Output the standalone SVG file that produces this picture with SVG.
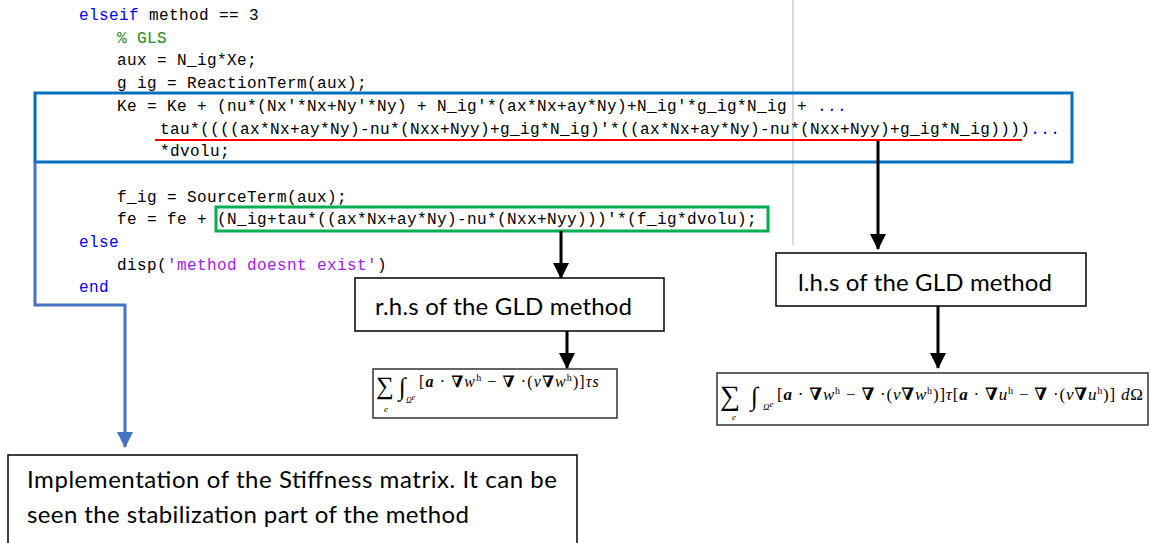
<svg xmlns="http://www.w3.org/2000/svg" width="1151" height="543" viewBox="0 0 1151 543">
<style>
.code{font-family:"Liberation Mono","Courier New",monospace;font-size:16px;letter-spacing:0.4px;fill:#000;white-space:pre}
.kw{fill:#0000ff}
.cm{fill:#228b22}
.st{fill:#a020f0}
.lbl{font-family:Lato,"Liberation Sans",Arial,sans-serif;font-size:24px;fill:#000}
.box{fill:#fff;stroke:#000;stroke-width:1.5}
.fbox{fill:#fff;stroke:#333;stroke-width:1.5}
.fm{font-family:"Liberation Serif","DejaVu Serif",serif;fill:#000}
.b{font-weight:bold}
.bi{font-weight:bold;font-style:italic}
.i{font-style:italic}
.arr{stroke:#000;stroke-width:3;fill:none}
.barr{stroke:#4472c4;stroke-width:3;fill:none}
</style>
<defs>
<marker id="ah" markerUnits="userSpaceOnUse" markerWidth="16" markerHeight="16" viewBox="0 0 16 16" refX="15" refY="8" orient="auto">
<path d="M0,0 L16,8 L0,16 Z" fill="#000"/>
</marker>
<marker id="bh" markerUnits="userSpaceOnUse" markerWidth="16" markerHeight="16" viewBox="0 0 16 16" refX="15" refY="8" orient="auto">
<path d="M0,0 L16,8 L0,16 Z" fill="#4472c4"/>
</marker>
</defs>
<rect width="1151" height="543" fill="#fff"/>
<line x1="793" y1="0" x2="793" y2="245" stroke="#d9d9d9" stroke-width="2"/>

<g id="code">
<text class="code" x="79" y="20"><tspan class="kw">elseif</tspan> method == 3</text>
<text class="code cm" x="117" y="42.7">% GLS</text>
<text class="code" x="117" y="65.4">aux = N_ig*Xe;</text>
<text class="code" x="117" y="88.1">g ig = ReactionTerm(aux);</text>
<text class="code" x="117" y="110.8">Ke = Ke + (nu*(Nx'*Nx+Ny'*Ny) + N_ig'*(ax*Nx+ay*Ny)+N_ig'*g_ig*N_ig + <tspan class="kw">...</tspan></text>
<text class="code" x="160" y="133.5">tau*((((ax*Nx+ay*Ny)-nu*(Nxx+Nyy)+g_ig*N_ig)'*((ax*Nx+ay*Ny)-nu*(Nxx+Nyy)+g_ig*N_ig))))<tspan class="kw">...</tspan></text>
<text class="code" x="160" y="156.2">*dvolu;</text>
<text class="code" x="117" y="201.6">f_ig = SourceTerm(aux);</text>
<text class="code" x="117" y="224.3">fe = fe + (N_ig+tau*((ax*Nx+ay*Ny)-nu*(Nxx+Nyy)))'*(f_ig*dvolu);</text>
<text class="code kw" x="79" y="247">else</text>
<text class="code" x="117" y="269.7">disp(<tspan class="st">'method doesnt exist'</tspan>)</text>
<text class="code kw" x="79" y="292.4">end</text>
</g>

<g id="stiffness-highlight">
<rect x="35" y="93" width="1037" height="69" fill="none" stroke="#0070c0" stroke-width="3"/>
<line x1="155" y1="140" x2="1022" y2="140" stroke="#ff0000" stroke-width="2"/>
</g>
<g id="rhs-highlight">
<rect x="216" y="207" width="552" height="24" fill="none" stroke="#00b050" stroke-width="3"/>
</g>

<g id="connectors">
<line class="arr" x1="561" y1="231" x2="561" y2="278" marker-end="url(#ah)"/>
<line class="arr" x1="878" y1="141" x2="878" y2="249" marker-end="url(#ah)"/>
<line class="arr" x1="567" y1="331" x2="567" y2="368" marker-end="url(#ah)"/>
<line class="arr" x1="938" y1="306" x2="938" y2="368" marker-end="url(#ah)"/>
<polyline class="barr" points="35,162 35,305 125,305 125,447" marker-end="url(#bh)"/>
</g>

<g id="rhs-label">
<rect class="box" x="355" y="278" width="309" height="53"/>
<text class="lbl" x="375" y="315" textLength="257" lengthAdjust="spacing">r.h.s of the GLD method</text>
</g>
<g id="lhs-label">
<rect class="box" x="776" y="253" width="310" height="53"/>
<text class="lbl" x="798" y="291" textLength="254" lengthAdjust="spacing">l.h.s of the GLD method</text>
</g>

<g id="rhs-formula">
<rect class="fbox" x="373" y="369" width="244" height="49"/>
<text class="fm" x="376" y="394" font-size="25">∑</text>
<text class="fm i" x="384" y="412" font-size="9">e</text>
<text class="fm i" x="399" y="395" font-size="25">∫</text>
<text class="fm i" x="406" y="403" font-size="8">Ω<tspan dy="-3">e</tspan></text>
<text class="fm" x="419" y="387" font-size="16" style="letter-spacing:1.1px">[<tspan class="bi">a</tspan> · <tspan class="b">∇</tspan><tspan class="i">w</tspan><tspan font-size="10" dy="-6">h</tspan><tspan dy="6"> − </tspan><tspan class="b">∇</tspan> ·(<tspan class="i">ν</tspan><tspan class="b">∇</tspan><tspan class="i">w</tspan><tspan font-size="10" dy="-6">h</tspan><tspan dy="6">)]</tspan><tspan class="i">τs</tspan></text>
</g>

<g id="lhs-formula">
<rect class="fbox" x="717" y="373" width="431" height="52"/>
<text class="fm" x="720" y="405" font-size="28">∑</text>
<text class="fm i" x="732" y="420" font-size="9">e</text>
<text class="fm i" x="751" y="405" font-size="26">∫</text>
<text class="fm i" x="763" y="410" font-size="9">Ω<tspan dy="-3">e</tspan></text>
<text class="fm" x="777" y="400" font-size="17" style="letter-spacing:0.8px">[<tspan class="bi">a</tspan> · <tspan class="b">∇</tspan><tspan class="i">w</tspan><tspan font-size="10" dy="-6">h</tspan><tspan dy="6"> − </tspan><tspan class="b">∇</tspan> ·(<tspan class="i">ν</tspan><tspan class="b">∇</tspan><tspan class="i">w</tspan><tspan font-size="10" dy="-6">h</tspan><tspan dy="6">)]</tspan><tspan class="i">τ</tspan>[<tspan class="bi">a</tspan> · <tspan class="b">∇</tspan><tspan class="i">u</tspan><tspan font-size="10" dy="-6">h</tspan><tspan dy="6"> − </tspan><tspan class="b">∇</tspan> ·(<tspan class="i">ν</tspan><tspan class="b">∇</tspan><tspan class="i">u</tspan><tspan font-size="10" dy="-6">h</tspan><tspan dy="6">)] </tspan><tspan class="i">d</tspan>Ω</text>
</g>

<g id="stiffness-label">
<rect class="box" x="8" y="455" width="569" height="100"/>
<text class="lbl" x="27" y="488" textLength="530" lengthAdjust="spacing">Implementation of the Stiffness matrix. It can be</text>
<text class="lbl" x="27" y="523" textLength="442" lengthAdjust="spacing">seen the stabilization part of the method</text>
</g>
</svg>
